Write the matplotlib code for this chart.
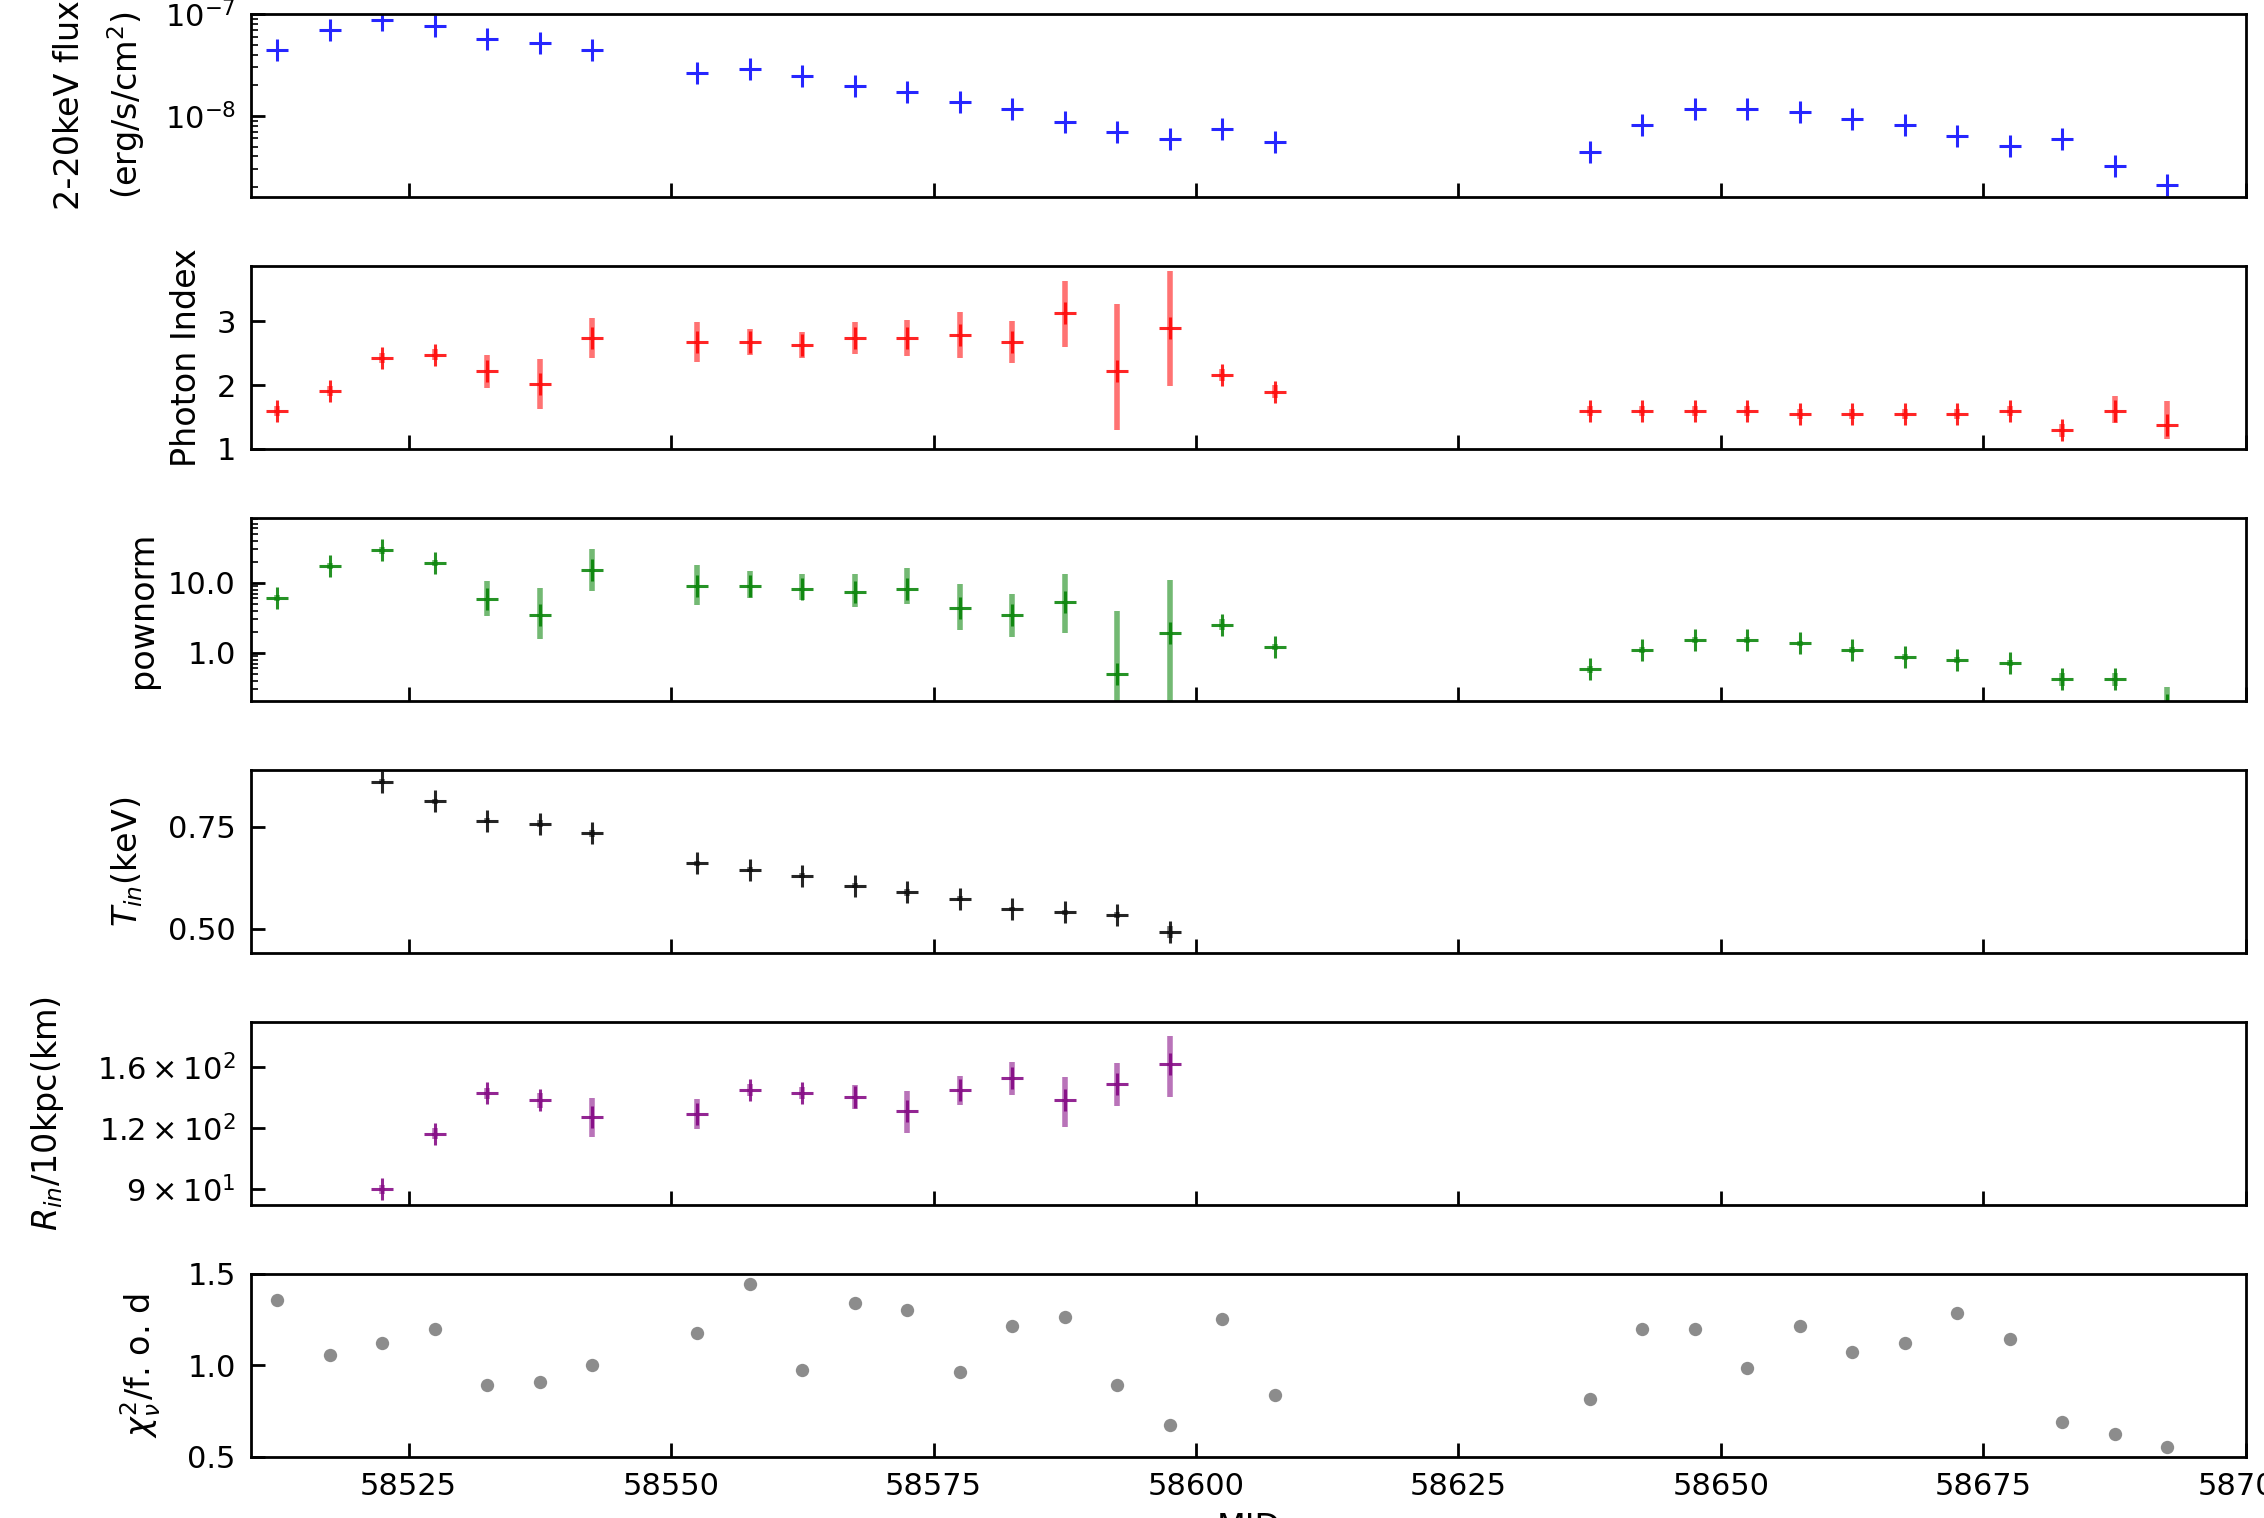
#!/usr/bin/env python3
"""Spectral fit parameters vs MJD (six stacked panels)."""

import matplotlib
matplotlib.use("Agg")
import matplotlib.pyplot as plt
from matplotlib.colors import to_rgba
from matplotlib.ticker import FormatStrFormatter, NullFormatter, NullLocator, MultipleLocator

# --- data ---------------------------------------------------------------
mjd = [58512.5, 58517.5, 58522.5, 58527.5, 58532.5, 58537.5, 58542.5,
       58552.5, 58557.5, 58562.5, 58567.5, 58572.5, 58577.5, 58582.5,
       58587.5, 58592.5, 58597.5, 58602.5, 58607.5,
       58637.5, 58642.5, 58647.5, 58652.5, 58657.5, 58662.5, 58667.5,
       58672.5, 58677.5, 58682.5, 58687.5, 58692.5]

flux = [4.47e-8, 6.97e-8, 8.77e-8, 7.64e-8, 5.62e-8, 5.21e-8, 4.47e-8,
        2.65e-8, 2.86e-8, 2.47e-8, 1.96e-8, 1.71e-8, 1.36e-8, 1.17e-8,
        8.7e-9, 6.9e-9, 5.93e-9, 7.47e-9, 5.5e-9,
        4.4e-9, 8.07e-9, 1.17e-8, 1.17e-8, 1.08e-8, 9.26e-9, 8.07e-9,
        6.41e-9, 5.09e-9, 5.93e-9, 3.24e-9, 2.1e-9]

index = [1.60, 1.91, 2.43, 2.48, 2.22, 2.02, 2.74,
         2.68, 2.68, 2.63, 2.74, 2.74, 2.79, 2.68, 3.14, 2.22, 2.89, 2.16, 1.90,
         1.60, 1.60, 1.60, 1.60, 1.55, 1.55, 1.55, 1.55, 1.60, 1.29, 1.60, 1.38]
index_lo = [0.08, 0.08, 0.08, 0.08, 0.26, 0.39, 0.31,
            0.31, 0.20, 0.20, 0.25, 0.28, 0.36, 0.33, 0.54, 0.92, 0.91, 0.10, 0.10,
            0.08, 0.08, 0.08, 0.08, 0.08, 0.08, 0.08, 0.08, 0.08, 0.10, 0.19, 0.22]
index_hi = [0.08, 0.08, 0.08, 0.08, 0.26, 0.39, 0.31,
            0.31, 0.20, 0.20, 0.25, 0.28, 0.36, 0.33, 0.49, 1.06, 0.90, 0.10, 0.10,
            0.08, 0.08, 0.08, 0.08, 0.08, 0.08, 0.08, 0.08, 0.08, 0.10, 0.23, 0.38]

pownorm = [6.0, 17.2, 29.0, 19.2, 5.95, 3.49, 15.4,
           9.07, 9.07, 8.13, 7.3, 8.13, 4.34, 3.49, 5.32, 0.49, 1.9, 2.52, 1.22,
           0.58, 1.09, 1.51, 1.51, 1.36, 1.09, 0.88, 0.79, 0.71, 0.42, 0.42, 0.18]
pownorm_lo = [0.6, 1.7, 2.9, 1.9, 2.65, 1.9, 7.8,
              4.2, 3.0, 2.5, 2.8, 3.1, 2.2, 1.8, 3.4, 0.47, 1.75, 0.4, 0.12,
              0.06, 0.1, 0.15, 0.15, 0.13, 0.1, 0.09, 0.08, 0.07, 0.08, 0.08, 0.05]
pownorm_hi = [0.6, 1.7, 2.9, 1.9, 4.65, 5.0, 15.2,
              9.1, 5.5, 5.2, 5.8, 8.2, 5.2, 3.4, 7.8, 3.4, 8.9, 0.5, 0.12,
              0.06, 0.1, 0.15, 0.15, 0.13, 0.1, 0.09, 0.08, 0.07, 0.1, 0.1, 0.14]

# disk parameters only for MJD 58522.5 - 58597.5
disk_mjd = mjd[2:17]
t_in = [0.861, 0.813, 0.765, 0.758, 0.734, 0.661, 0.645, 0.630,
        0.605, 0.589, 0.573, 0.548, 0.540, 0.533, 0.492]
t_in_err = [0.006, 0.006, 0.006, 0.008, 0.008, 0.006, 0.006, 0.006,
            0.006, 0.008, 0.006, 0.006, 0.006, 0.008, 0.014]
r_in = [90, 117, 141.5, 136.8, 126.7, 128.6, 143.8, 141.5,
        139.1, 130.2, 143.8, 152.3, 136.8, 148.1, 162.1]
r_in_err = [2, 3, 3.5, 5, 11.5, 9, 4, 4, 8, 13, 10, 12, 16, 15, 23]

chi2 = [1.358, 1.055, 1.125, 1.197, 0.892, 0.907, 1.0,
        1.178, 1.447, 0.977, 1.339, 1.301, 0.962, 1.216, 1.267, 0.892, 0.676, 1.252, 0.837,
        0.819, 1.197, 1.197, 0.984, 1.216, 1.072, 1.124, 1.284, 1.142, 0.693, 0.624, 0.552]

r_ticks = [90, 120, 160]
r_tick_labels = [r"$9\times10^{1}$", r"$1.2\times10^{2}$", r"$1.6\times10^{2}$"]

plt.rcParams.update({
    "font.size": 11,
    "axes.labelsize": 12,
    "xtick.direction": "in",
    "ytick.direction": "in",
    "xtick.major.size": 5,
    "ytick.major.size": 5,
    "ytick.minor.size": 2.5,
    "xtick.major.pad": 5.5,
    "ytick.major.pad": 5.5,
    "ytick.minor.pad": 5.5,
    "xtick.major.width": 1.0,
    "ytick.major.width": 1.0,
    "axes.linewidth": 1.0,
})


def err_plot(ax, x, y, yerr, color):
    ax.errorbar(x, y, yerr=yerr, fmt="+", color=to_rgba(color, 0.85),
                ecolor=to_rgba(color, 0.55), elinewidth=2.0,
                markersize=8, mew=1.1, capsize=0)


fig, axes = plt.subplots(6, 1, figsize=(11.32, 7.59), dpi=200, sharex=True)
fig.subplots_adjust(left=0.1109, right=0.992, top=0.9908, bottom=0.0402, hspace=0.377)

# 1: flux
ax = axes[0]
err_plot(ax, mjd, flux, None, "blue")
ax.set_yscale("log")
ax.set_ylim(1.6e-9, 1e-7)
ax.set_ylabel("2-20keV flux\n(erg/s/cm$^2$)", linespacing=1.6)
ax.yaxis.set_label_coords(-0.052, 0.5)

# 2: photon index
ax = axes[1]
err_plot(ax, mjd, index, [index_lo, index_hi], "red")
ax.set_ylim(1, 3.87)
ax.set_yticks([1, 2, 3])
ax.set_ylabel("Photon Index")
ax.yaxis.set_label_coords(-0.024, 0.5)

# 3: powerlaw norm
ax = axes[2]
err_plot(ax, mjd, pownorm, [pownorm_lo, pownorm_hi], "green")
ax.set_yscale("log")
ax.set_ylim(0.205, 84)
ax.yaxis.set_major_formatter(FormatStrFormatter("%.1f"))
ax.yaxis.set_minor_formatter(NullFormatter())
ax.set_ylabel("pownorm")
ax.yaxis.set_label_coords(-0.046, 0.5)

# 4: inner disk temperature
ax = axes[3]
err_plot(ax, disk_mjd, t_in, t_in_err, "black")
ax.set_ylim(0.44, 0.89)
ax.set_yticks([0.50, 0.75])
ax.yaxis.set_major_formatter(FormatStrFormatter("%.2f"))
ax.set_ylabel(r"$T_{in}$(keV)")
ax.yaxis.set_label_coords(-0.053, 0.5)

# 5: inner disk radius
ax = axes[4]
err_plot(ax, disk_mjd, r_in, r_in_err, "purple")
ax.set_yscale("log")
ax.set_ylim(83.6, 198)
ax.yaxis.set_minor_locator(NullLocator())
ax.set_yticks(r_ticks, labels=r_tick_labels)
ax.set_ylabel(r"$R_{in}$/10kpc(km)")
ax.yaxis.set_label_coords(-0.093, 0.5)

# 6: reduced chi2
ax = axes[5]
ax.plot(mjd, chi2, "o", color="gray", alpha=0.9, markersize=4.8, mew=0)
ax.set_ylim(0.5, 1.5)
ax.set_yticks([0.5, 1.0, 1.5])
ax.set_ylabel(r"$\chi^2_{\nu}$/f. o. d")
ax.yaxis.set_label_coords(-0.044, 0.5)
ax.set_xlabel("MJD")

for ax in axes:
    ax.set_xlim(58510, 58700)
    ax.xaxis.set_major_locator(MultipleLocator(25))
    ax.tick_params(which="both", top=False, right=False)

fig.savefig("out.png", dpi=200)
plt.close(fig)
